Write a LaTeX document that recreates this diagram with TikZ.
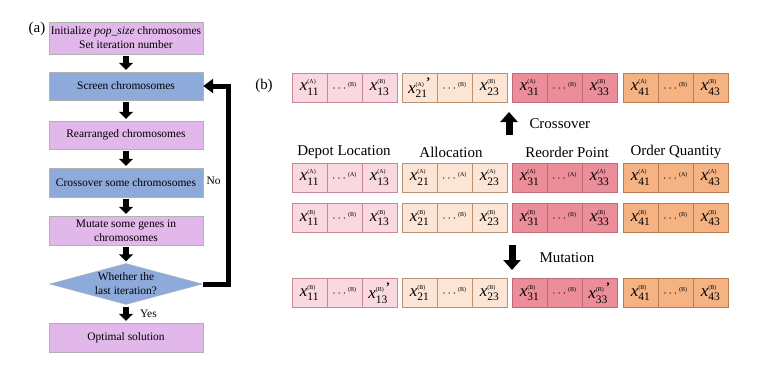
\documentclass[tikz,border=0pt]{standalone}
\usepackage{amsmath}
\usepackage{fontspec}
\setmainfont{Liberation Serif}
\usetikzlibrary{positioning,arrows.meta,shapes.geometric,calc}
\definecolor{cPink} {HTML}{E2B8EA}
\definecolor{cBlue} {HTML}{8EAADB}
\definecolor{cDep}  {HTML}{F9D8E0}
\definecolor{cDepB} {HTML}{C68896}
\definecolor{cAlc}  {HTML}{FCE5D5}
\definecolor{cAlcB} {HTML}{B99273}
\definecolor{cReo}  {HTML}{EC8D9A}
\definecolor{cReoB} {HTML}{BF6A77}
\definecolor{cOrd}  {HTML}{F5B283}
\definecolor{cOrdB} {HTML}{B97C52}

% one gene cell: x^{(tag)}_{ij}, dots, primed gene
\newcommand{\gx}[2]{$\text{\itshape x}^{\text{\fontsize{6}{6}\selectfont(#2)}}_{\text{\fontsize{11.5}{10}\selectfont#1}}$}
\newcommand{\gxp}[2]{$\text{\itshape x}^{\text{\fontsize{6}{6}\selectfont(#2)\fontsize{13}{10}\selectfont\bfseries\,’}}_{\text{\fontsize{11.5}{10}\selectfont#1}}$}
\newcommand{\gd}[1]{\raisebox{1.5bp}{\fontsize{12}{12}\selectfont$\cdots$}$^{\text{\fontsize{6}{6}\selectfont(#1)}}$}
% three cells of one gene group
\newcommand{\genes}[7]{%
  \node[#4,anchor=west] (#1-1) at (#2,#3) {#5};
  \node[#4,right=0pt of #1-1] (#1-2) {#6};
  \node[#4,right=0pt of #1-2] (#1-3) {#7};}

\begin{document}
\begin{tikzpicture}[
    x=1bp,y=-1bp,
    fbox/.style={draw=gray!60,align=center,minimum width=154bp,inner sep=2bp,
                 font=\fontsize{11.5}{14}\selectfont},
    pk/.style={fbox,fill=cPink},
    bl/.style={fbox,fill=cBlue},
    blk/.style={-{Triangle[width=14bp,length=7bp]},line width=5.5bp,
                shorten <=2bp,shorten >=2bp},
    back/.style={-{Triangle[width=14bp,length=10bp]},line width=5bp},
    big/.style={-{Triangle[width=17bp,length=10bp]},line width=7bp},
    cell/.style={draw,minimum width=35bp,minimum height=29bp,inner sep=0pt,
                 outer sep=0pt,line width=0.6bp,font=\fontsize{17}{18}\selectfont},
    dep/.style={cell,fill=cDep,draw=cDepB},
    alc/.style={cell,fill=cAlc,draw=cAlcB},
    reo/.style={cell,fill=cReo,draw=cReoB},
    ord/.style={cell,fill=cOrd,draw=cOrdB},
    lab/.style={font=\fontsize{15}{16}\selectfont},
    sml/.style={font=\fontsize{11.5}{13}\selectfont},
  ]
  \useasboundingbox (0,0) rectangle (762,372);

  % ---------- (a) FLOWCHART ----------
  \node[lab] (ta) at (37,29) {(a)};
  \node[pk,minimum height=32bp] (init) at (126,38)
        {Initialize \textit{pop\_size} chromosomes\\Set iteration number};
  \node[bl,minimum height=28bp] (scr)   at (126,86)    {Screen chromosomes};
  \node[pk,minimum height=28bp] (rearr) at (126,135)   {Rearranged chromosomes};
  \node[bl,minimum height=29bp] (cross) at (126,182.5) {Crossover some chromosomes};
  \node[pk,minimum height=29bp] (mut)   at (126,230.5) {Mutate some genes in\\chromosomes};
  \node[diamond,draw=gray!60,fill=cBlue,inner sep=0pt,minimum width=153bp,
        minimum height=41bp,
        label={[align=center,font=\fontsize{11.5}{14}\selectfont]center:Whether the\\last iteration?}]
        (dec) at (126,284) {};
  \node[pk,minimum height=29bp] (opt)   at (126,337.5) {Optimal solution};

  \draw[blk] (init) -- (scr);
  \draw[blk] (scr) -- (rearr);
  \draw[blk] (rearr) -- (cross);
  \draw[blk] (cross) -- (mut);
  \draw[blk] (mut) -- (dec);
  \draw[blk] (dec) -- (opt) node[midway,right=8bp,sml]{Yes};

  % loop back when not the last iteration
  \coordinate (lp) at (228.5,284);
  \draw[back] (dec.east) -- (lp) |- (scr.east) node[pos=0.26,left=2bp,sml]{No};

  % ---------- (b) GENE STRINGS ----------
  \node[lab] (tb) at (264,86) {(b)};

  % after crossover
  \genes{dlX}{292}{87.5}{dep}{\gx{11}{A}}{\gd{B}}{\gx{13}{B}}
  \genes{alX}{402}{87.5}{alc}{\gxp{21}{A}}{\gd{B}}{\gx{23}{B}}
  \genes{rpX}{512}{87.5}{reo}{\gx{31}{A}}{\gd{B}}{\gx{33}{B}}
  \genes{oqX}{623}{87.5}{ord}{\gx{41}{A}}{\gd{B}}{\gx{43}{B}}

  % parent A
  \genes{dlA}{292}{177.5}{dep}{\gx{11}{A}}{\gd{A}}{\gx{13}{A}}
  \genes{alA}{402}{177.5}{alc}{\gx{21}{A}}{\gd{A}}{\gx{23}{A}}
  \genes{rpA}{512}{177.5}{reo}{\gx{31}{A}}{\gd{A}}{\gx{33}{A}}
  \genes{oqA}{623}{177.5}{ord}{\gx{41}{A}}{\gd{A}}{\gx{43}{A}}

  % parent B
  \genes{dlB}{292}{218}{dep}{\gx{11}{B}}{\gd{B}}{\gx{13}{B}}
  \genes{alB}{402}{218}{alc}{\gx{21}{B}}{\gd{B}}{\gx{23}{B}}
  \genes{rpB}{512}{218}{reo}{\gx{31}{B}}{\gd{B}}{\gx{33}{B}}
  \genes{oqB}{623}{218}{ord}{\gx{41}{B}}{\gd{B}}{\gx{43}{B}}

  % after mutation
  \genes{dlM}{292}{293}{dep}{\gx{11}{B}}{\gd{B}}{\gxp{13}{B}}
  \genes{alM}{402}{293}{alc}{\gx{21}{B}}{\gd{B}}{\gx{23}{B}}
  \genes{rpM}{512}{293}{reo}{\gx{31}{B}}{\gd{B}}{\gxp{33}{B}}
  \genes{oqM}{623}{293}{ord}{\gx{41}{B}}{\gd{B}}{\gx{43}{B}}

  \node[lab] (ldl) at (344,152) {Depot Location};
  \node[lab] (lal) at (451,152) {Allocation};
  \node[lab] (lrp) at (567,152) {Reorder Point};
  \node[lab] (loq) at (676,152) {Order Quantity};

  % crossover / mutation steps
  \coordinate (xs) at (509,135);
  \coordinate (xe) at (509,112);
  \draw[big] (xs) -- (xe);
  \node[lab,anchor=west] (lx) at (526,124) {Crossover};
  \coordinate (ms) at (512,245);
  \coordinate (me) at (512,270);
  \draw[big] (ms) -- (me);
  \node[lab,anchor=west] (lm) at (536,258) {Mutation};

\end{tikzpicture}
\end{document}
